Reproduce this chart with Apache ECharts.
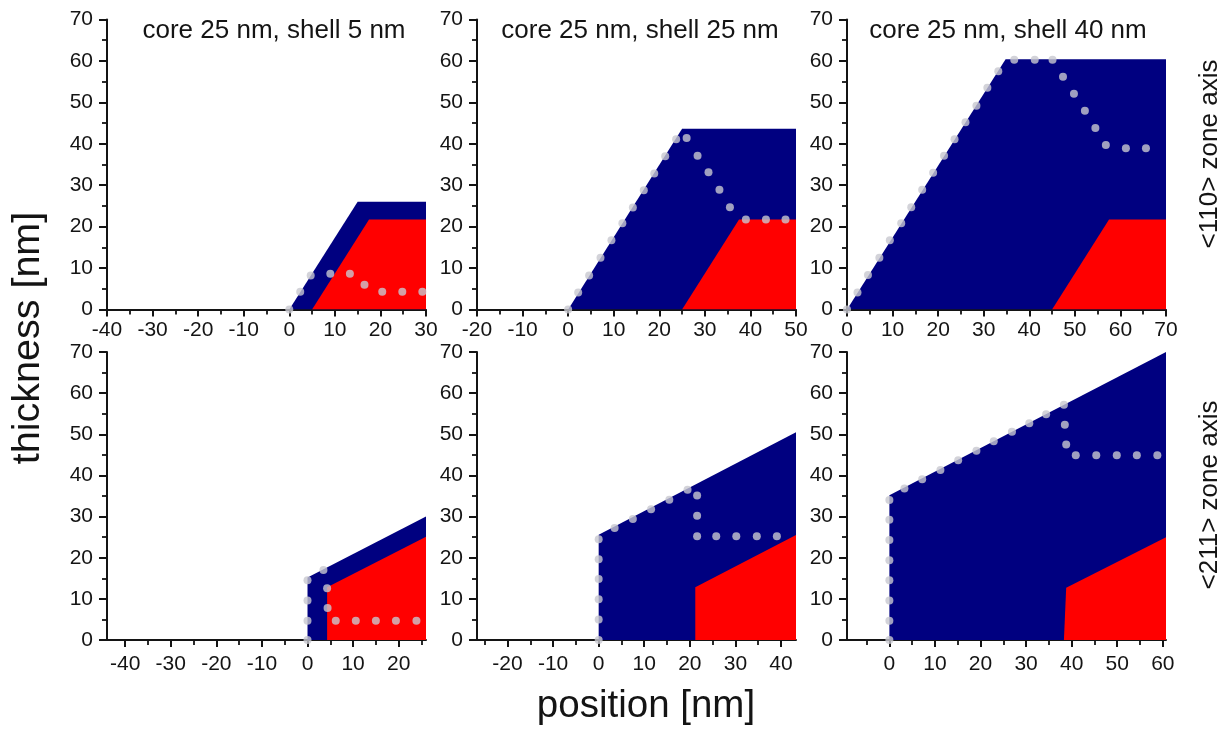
<!DOCTYPE html>
<html>
<head>
<meta charset="utf-8">
<title>core-shell thickness profiles</title>
<script src="https://cdn.jsdelivr.net/npm/echarts@6/dist/echarts.min.js"></script>
<style>
  html, body { margin: 0; padding: 0; background: #fff; }
  #chart { width: 1231px; height: 731px; }
</style>
</head>
<body>
<div id="chart"></div>
<script>
// values: [position nm, thickness nm]

// <110> zone axis, core 25 nm
const shell110_5 = [[0, 0], [15, 26], [30, 26]];
const core110_5 = [[5, 0], [17.5, 21.7], [30, 21.7]];
const dots110_5 = [[0, 0], [2.4, 4.3], [4.7, 8.2], [9, 8.6], [13.3, 8.6], [16.5, 6], [20.4, 4.3], [24.8, 4.3], [29.2, 4.3]];

const shell110_25 = [[0, 0], [25, 43.6], [50, 43.6]];
const core110_25 = [[25, 0], [37.5, 21.7], [50, 21.7]];
const dots110_25 = [[0, 0], [2.2, 4.1], [4.6, 8.2], [7.1, 12.5], [9.5, 16.7], [11.9, 20.8], [14.2, 24.6], [16.6, 28.8],
  [18.9, 32.8], [21.3, 37], [23.7, 41.1], [26, 41.4], [28.4, 37.1], [30.8, 33.1], [33.2, 28.9], [35.5, 24.7],
  [39, 21.7], [43.4, 21.7], [47.7, 21.7]];

const shell110_40 = [[0, 0], [34.8, 60.4], [70, 60.4]];
const core110_40 = [[45, 0], [57.5, 21.7], [70, 21.7]];
const dots110_40 = [[0, 0], [2.3, 4.1], [4.6, 8.3], [7.1, 12.5], [9.4, 16.7], [11.9, 20.8], [14.1, 24.7], [16.5, 28.9],
  [18.9, 33], [21.3, 37.1], [23.6, 41.1], [26, 45.2], [28.4, 49.2], [30.8, 53.5], [33.2, 57.5], [36.7, 60.3],
  [41.2, 60.3], [45.1, 60.3], [47.4, 56.2], [49.8, 52.1], [52.2, 48], [54.5, 43.8], [56.8, 39.7], [61.2, 38.9], [65.6, 38.9]];

// <211> zone axis, core 25 nm
const shell211_5 = [[0, 0], [0, 15.2], [26, 30]];
const core211_5 = [[4.3, 0], [4.3, 12.8], [26, 25.1]];
const dots211_5 = [[0, 0], [0, 4.7], [0, 9.6], [0, 14.5], [3.5, 17], [4.3, 12.6], [4.4, 7.8], [6.2, 4.7],
  [10.6, 4.7], [15, 4.7], [19.4, 4.7], [23.9, 4.7]];

const shell211_25 = [[0, 0], [0, 25.6], [43.3, 50.5]];
const core211_25 = [[21.2, 0], [21.2, 12.8], [43.3, 25.5]];
const dots211_25 = [[0, 0], [0, 5], [0, 9.9], [0, 14.8], [0, 19.6], [0, 24.5], [3.5, 27.2], [7.5, 29.4], [11.5, 31.8],
  [15.5, 34.1], [19.5, 36.5], [21.6, 35.1], [21.6, 30.2], [21.6, 25.2], [25.8, 25.2], [30.2, 25.2], [34.7, 25.2], [39.1, 25.2]];

const shell211_40 = [[0, 0], [0, 35.2], [60.7, 70]];
const core211_40 = [[38.3, 0], [38.8, 12.7], [60.7, 25]];
const dots211_40 = [[0, 0], [0, 4.7], [0, 9.6], [0, 14.5], [0, 19.4], [0, 24.3], [0, 29.2], [0, 34], [3.3, 36.8],
  [7.2, 39.1], [11.2, 41.3], [15.1, 43.7], [19.1, 46], [22.9, 48.3], [26.9, 50.6], [30.7, 52.7], [34.4, 54.9],
  [38.3, 57.2], [38.5, 52.3], [38.8, 47.5], [40.9, 44.9], [45.4, 44.9], [49.9, 44.9], [54.3, 44.9], [58.8, 44.9]];

// x tick labels and minor ticks of each panel
const ticks110_5 = [-40, -30, -20, -10, 0, 10, 20, 30];
const minor110_5 = [-35, -25, -15, -5, 5, 15, 25];
const ticks110_25 = [-20, -10, 0, 10, 20, 30, 40, 50];
const minor110_25 = [-15, -5, 5, 15, 25, 35, 45];
const ticks110_40 = [0, 10, 20, 30, 40, 50, 60, 70];
const minor110_40 = [5, 15, 25, 35, 45, 55, 65];
const ticks211_5 = [-40, -30, -20, -10, 0, 10, 20];
const minor211_5 = [-35, -25, -15, -5, 5, 15, 25];
const ticks211_25 = [-20, -10, 0, 10, 20, 30, 40];
const minor211_25 = [-25, -15, -5, 5, 15, 25, 35];
const ticks211_40 = [0, 10, 20, 30, 40, 50, 60];
const minor211_40 = [-5, 5, 15, 25, 35, 45, 55];

const titles = ['core 25 nm, shell 5 nm', 'core 25 nm, shell 25 nm', 'core 25 nm, shell 40 nm'];

const panels = [
  {range: [-40, 30], shell: shell110_5, core: core110_5, dots: dots110_5, ticks: ticks110_5, minor: minor110_5},
  {range: [-20, 50], shell: shell110_25, core: core110_25, dots: dots110_25, ticks: ticks110_25, minor: minor110_25},
  {range: [0, 70], shell: shell110_40, core: core110_40, dots: dots110_40, ticks: ticks110_40, minor: minor110_40},
  {range: [-44, 26], shell: shell211_5, core: core211_5, dots: dots211_5, ticks: ticks211_5, minor: minor211_5},
  {range: [-26.7, 43.3], shell: shell211_25, core: core211_25, dots: dots211_25, ticks: ticks211_25, minor: minor211_25},
  {range: [-9.3, 60.7], shell: shell211_40, core: core211_40, dots: dots211_40, ticks: ticks211_40, minor: minor211_40}
];

const FONT = '"Liberation Sans", Arial, sans-serif';
const INK = '#141414';
const NAVY = '#000080';
const RED = '#ff0000';
const DOT = '#c8c8cf';

const colLeft = [107, 477, 847];
const rowTop = [19.5, 352];
const rowHeight = [290, 288];

const grids = [], xAxes = [], yAxes = [], series = [];

panels.forEach(function (p, i) {
  const row = Math.floor(i / 3), col = i % 3;
  grids.push({left: colLeft[col], top: rowTop[row], width: 319, height: rowHeight[row], outerBoundsMode: 'none'});

  // x axis with labels and long ticks
  xAxes.push({
    type: 'value', gridIndex: i, min: p.range[0], max: p.range[1], position: 'bottom',
    axisLine: {show: true, onZero: false, lineStyle: {color: INK, width: 2}},
    axisTick: {show: true, length: 7, customValues: p.ticks, lineStyle: {color: INK, width: 2}},
    axisLabel: {customValues: p.ticks, margin: row ? 14 : 10, fontSize: 21, color: INK, fontFamily: FONT},
    splitLine: {show: false}
  });
  // same axis again, only for the short ticks in between
  xAxes.push({
    type: 'value', gridIndex: i, min: p.range[0], max: p.range[1], position: 'bottom',
    axisLine: {show: false, onZero: false},
    axisTick: {show: true, length: 5, customValues: p.minor, lineStyle: {color: INK, width: 1.8}},
    axisLabel: {show: false},
    splitLine: {show: false}
  });
  yAxes.push({
    type: 'value', gridIndex: i, min: 0, max: 70, interval: 10,
    axisLine: {show: true, onZero: false, lineStyle: {color: INK, width: 2}},
    axisTick: {show: true, length: 8, lineStyle: {color: INK, width: 2}},
    minorTick: {show: true, splitNumber: 2, length: 5, lineStyle: {color: INK, width: 1.8}},
    axisLabel: {margin: 14, fontSize: 21, color: INK, fontFamily: FONT},
    splitLine: {show: false}
  });

  series.push({
    type: 'line', xAxisIndex: 2 * i, yAxisIndex: i, data: p.shell, symbol: 'none', silent: true, z: 2,
    lineStyle: {width: 0}, areaStyle: {color: NAVY, opacity: 1}
  });
  series.push({
    type: 'line', xAxisIndex: 2 * i, yAxisIndex: i, data: p.core, symbol: 'none', silent: true, z: 3,
    lineStyle: {width: 0}, areaStyle: {color: RED, opacity: 1}
  });
  series.push({
    type: 'scatter', xAxisIndex: 2 * i, yAxisIndex: i, data: p.dots, symbolSize: 8, silent: true, z: 4,
    itemStyle: {color: DOT}
  });
});

function label(text, x, y, size, rotation) {
  return {
    type: 'text', x: x, y: y, rotation: rotation || 0, z: 10,
    style: {
      text: text, fontSize: size, fontFamily: FONT, fill: INK,
      align: 'center', verticalAlign: 'middle', textAlign: 'center', textVerticalAlign: 'middle'
    }
  };
}

const chart = echarts.init(document.getElementById('chart'), null, {renderer: 'canvas'});
chart.setOption({
  animation: false,
  backgroundColor: '#fff',
  grid: grids,
  xAxis: xAxes,
  yAxis: yAxes,
  series: series,
  graphic: [
    label(titles[0], 274, 31, 26),
    label(titles[1], 640, 31, 26),
    label(titles[2], 1008, 31, 26),
    label('thickness [nm]', 28.5, 338, 39.5, Math.PI / 2),
    label('position [nm]', 646, 706, 38.5),
    label('<110> zone axis', 1210, 154, 26, Math.PI / 2),
    label('<211> zone axis', 1210, 495, 26, Math.PI / 2)
  ]
});
</script>
</body>
</html>
